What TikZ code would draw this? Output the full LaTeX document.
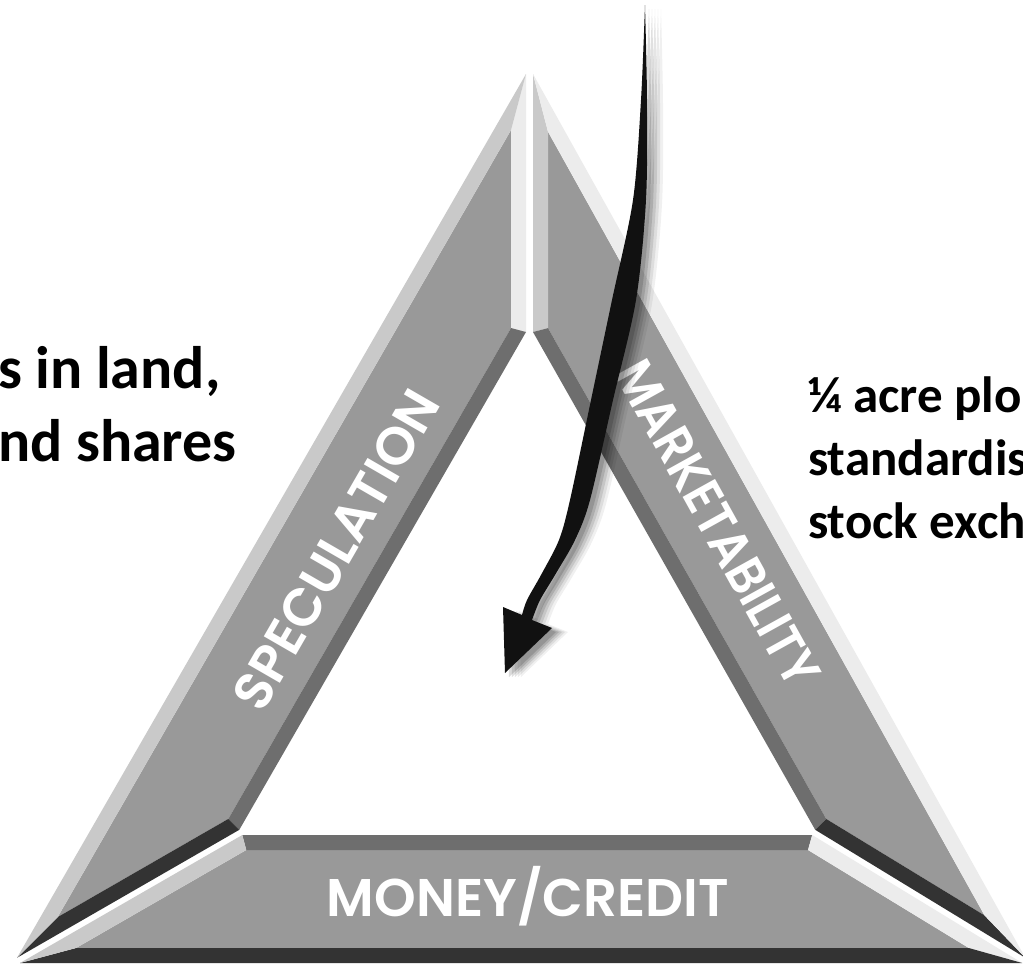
\documentclass[tikz,border=0pt]{standalone}
\usepackage{fontspec}
\usepackage{tikz}
\setmainfont{Carlito}
\newfontfamily\barfont{Poppins SemiBold}

\definecolor{face}{HTML}{999999}
\definecolor{lightbev}{HTML}{C9C9C9}
\definecolor{palebev}{HTML}{ECECEC}
\definecolor{midbev}{HTML}{6E6E6E}
\definecolor{darkbev}{HTML}{333333}
\definecolor{arrowblk}{HTML}{111111}

\newcommand{\arrowpath}{plot[smooth] coordinates {(645,5) (647,100) (646,200) (636,300) (613,400) (590,500) (575,540) (555,575) (540,600) (532,620)} -- (552,628) -- (505,673) -- (503,607) -- plot[smooth] coordinates {(522,615) (527,600) (541,575) (559,540) (570,500) (591,400) (612,300) (633,200) (641,100) (645,5)} -- cycle}

\begin{document}
\begin{tikzpicture}[x=1pt,y=-1pt,
  sidetext/.style={font=\bfseries, anchor=base west, inner sep=0pt},
  barlabel/.style={text=white, font=\barfont\fontsize{53}{53}\selectfont, inner sep=0pt}]
\fill[white] (0,0) rectangle (1023,964);
\clip (0,0) rectangle (1023,964);

\fill[face] (511,130.1) -- (511,328) -- (228.3,818.9) -- (57.7,917.1) -- cycle;
\fill[palebev] (526,74) -- (526,332) -- (511,328) -- (511,130.1) -- cycle;
\fill[midbev] (526,332) -- (239.3,829.8) -- (228.3,818.9) -- (511,328) -- cycle;
\fill[darkbev] (239.3,829.8) -- (17,957.8) -- (57.7,917.1) -- (228.3,818.9) -- cycle;
\fill[lightbev] (17,957.8) -- (526,74) -- (511,130.1) -- (57.7,917.1) -- cycle;

\fill[face] (246.3,850) -- (808,850) -- (968.8,948) -- (76.1,948) -- cycle;
\fill[midbev] (242.3,835) -- (812.2,835) -- (808,850) -- (246.3,850) -- cycle;
\fill[palebev] (812.2,835) -- (1022.2,963) -- (968.8,948) -- (808,850) -- cycle;
\fill[darkbev] (1022.2,963) -- (20,963) -- (76.1,948) -- (968.8,948) -- cycle;
\fill[lightbev] (20,963) -- (242.3,835) -- (246.3,850) -- (76.1,948) -- cycle;

\fill[face] (548,131.8) -- (548,328.1) -- (826.3,819) -- (984.5,915.4) -- cycle;
\fill[lightbev] (533,74) -- (533,332) -- (548,328.1) -- (548,131.8) -- cycle;
\fill[midbev] (533,332) -- (815.2,829.8) -- (826.3,819) -- (548,328.1) -- cycle;
\fill[darkbev] (815.2,829.8) -- (1025.3,957.8) -- (984.5,915.4) -- (826.3,819) -- cycle;
\fill[palebev] (1025.3,957.8) -- (533,74) -- (548,131.8) -- (984.5,915.4) -- cycle;

\node[barlabel, rotate=60] (spec) at (336,550) {SPECULATION};
\node[barlabel, rotate=-61, xscale=0.9] (market) at (718,523) {MARKETABILITY};
\node[barlabel] (money) at (528,896) {MONEY/CREDIT};

\foreach \dx/\op in {16/.06, 13/.08, 10/.1, 7/.12, 4/.14}
  \fill[black, opacity=\op, shift={(\dx,4)}] \arrowpath;
\fill[arrowblk] \arrowpath;

\node[sidetext, font=\bfseries\fontsize{60}{72}\selectfont] (landA) at (-2,388) {s in land,};
\node[sidetext, font=\bfseries\fontsize{60}{72}\selectfont] (landB) at (-2,461) {nd shares};
\node[sidetext, font=\bfseries\fontsize{51}{62}\selectfont] (plotA) at (808,412) {¼ acre plo};
\node[sidetext, font=\bfseries\fontsize{51}{62}\selectfont] (plotB) at (808,475) {standardis};
\node[sidetext, font=\bfseries\fontsize{51}{62}\selectfont] (plotC) at (808,538) {stock exch};
\end{tikzpicture}
\end{document}
